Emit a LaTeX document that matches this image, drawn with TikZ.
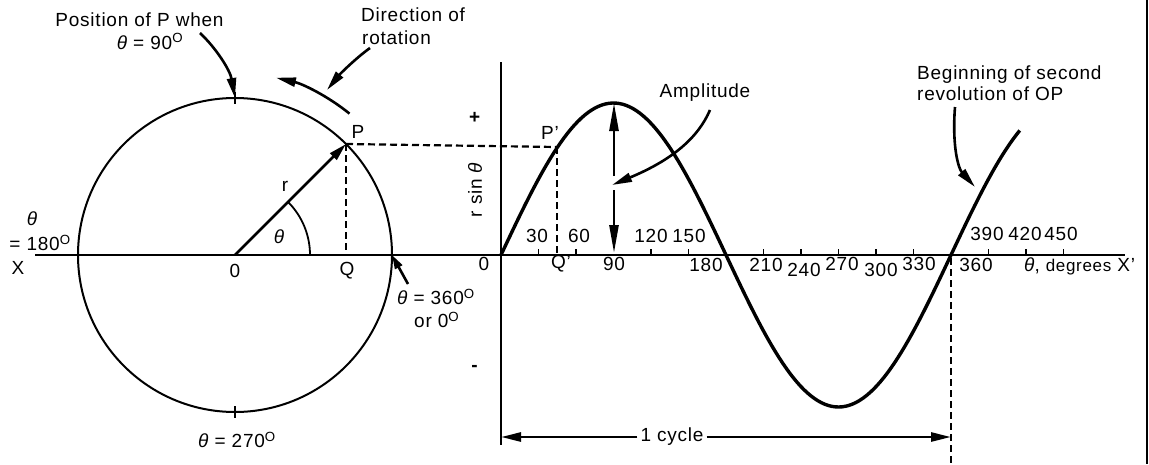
\documentclass[tikz,border=0pt]{standalone}
\usepackage{fontspec}
\setmainfont{Liberation Sans}[LetterSpace=4]
\usetikzlibrary{arrows.meta,calc}
\newcommand{\thet}{{\itshape θ}}
\begin{document}
\begin{tikzpicture}[x=1pt,y=-1pt,
  font=\fontsize{19}{21}\selectfont,
  lbl/.style={inner sep=0pt},
  axisline/.style={line width=2pt},
  curveline/.style={line width=3.4pt,line join=round},
  arr/.style={line width=2.6pt,-{Triangle[length=20pt,width=9pt]}},
  longarr/.style={line width=2.6pt,-{Triangle[length=28pt,width=9pt]}},
  dashline/.style={line width=2.2pt,dash pattern=on 7pt off 4pt},
  tick/.style={line width=1.6pt}]
\useasboundingbox (0,0) rectangle (1149,464);
% ---------- circle ----------
\coordinate (O) at (235,255);
\coordinate (P) at (346,144);
\coordinate (Q) at (346,255);
\coordinate (L) at (78,255);
\coordinate (R) at (392,255);
\coordinate (T) at (235,98);
\coordinate (B) at (235,412);
\draw[line width=2pt] (O) circle[radius=157];
\draw[axisline] (35,255) -- (1125,255);
\draw[tick] (235,92) -- (235,104);
\draw[tick] (235,406) -- (235,418);
\draw[line width=2.8pt,-{Triangle[length=18pt,width=9pt]}] (O) -- (P);
\draw[line width=1.8pt] ($(O)+(75,0)$) arc[start angle=0,end angle=-45,radius=75];
\draw[dashline] (P) -- (Q);
% rotation arc
\coordinate (rotS) at (349.5,113.6);
\draw[arr] (rotS) arc[start angle=-51,end angle=-77,radius=182];
% labels circle
\node[lbl] (lr) at (285,186) {r};
\node[lbl] (lth) at (279,237) {\thet};
\node[lbl] (lO) at (235,271) {0};
\node[lbl] (lQ) at (347,271) {Q};
\node[lbl] (lX) at (18,268) {X};
\node[lbl] (lP) at (358,132) {P};
\node[lbl] (l180a) at (32,219) {\thet};
\node[lbl] (l180b) at (40,243) {= 180\textsuperscript{O}};
\node[lbl] (l270) at (237,440) {\thet{} = 270\textsuperscript{O}};
\node[lbl,anchor=west] (l360a) at (397,297) {\thet{} = 360\textsuperscript{O}};
\node[lbl,anchor=west] (l360b) at (414,320) {or 0\textsuperscript{O}};
\coordinate (a360s) at (408,284);
\draw[line width=2.6pt,-{Triangle[length=14pt,width=8pt]}] (a360s) -- (R);
% top labels
\node[lbl] (pos1) at (139.5,20) {Position of P when};
\node[lbl] (pos2) at (150,41.5) {\thet{} = 90\textsuperscript{O}};
\coordinate (posS) at (200,33);
\draw[arr] (posS) .. controls (216,48) and (230,70) .. (T);
\node[lbl,anchor=west] (dir1) at (361,15) {Direction of};
\node[lbl,anchor=west] (dir2) at (362,38) {rotation};
\coordinate (dirS) at (370,48);
\coordinate (dirE) at (327,90);
\draw[arr] (dirS) .. controls (356,58) and (340,74) .. (dirE);
% ---------- sine ----------
\coordinate (S0) at (501,255);
\draw[axisline] (501,62) -- (501,445);
\draw[curveline] plot[domain=0:415,samples=150] ({501+1.25*\x},{255-152*sin(\x)});
\foreach \a in {30,60,120,150,210,240,270,300,330,390,420,450}
  \draw[tick] ({501+1.25*\a},255) -- ++(0,-6);
\coordinate (Pp) at (557,147);
\coordinate (Qp) at (557,255);
\draw[dashline] (P) -- (Pp);
\draw[dashline] (Pp) -- (Qp);
\node[lbl] (lPp) at (550,133) {P'};
\node[lbl] (lQp) at (561,264) {Q'};
\node[lbl] (l0) at (484,264) {0};
\node[lbl] (lplus) at (475,118) {\textbf{+}};
\node[lbl] (lminus) at (475,368) {\textbf{-}};
\node[lbl,rotate=90] (lrs) at (475,190) {r sin \thet};
% tick labels
\node[lbl] (t30) at (537,236) {30};
\node[lbl] (t60) at (579,236) {60};
\node[lbl] (t120) at (651,236) {120};
\node[lbl] (t150) at (689,236) {150};
\node[lbl] (t390) at (987,234) {390};
\node[lbl] (t420) at (1025,234) {420};
\node[lbl] (t450) at (1061,234) {450};
\node[lbl] (t90) at (614,264) {90};
\node[lbl] (t180) at (706,265) {180};
\node[lbl] (t210) at (766,265) {210};
\node[lbl] (t240) at (804,270) {240};
\node[lbl] (t270) at (842,264) {270};
\node[lbl] (t300) at (881,270) {300};
\node[lbl] (t330) at (919,264) {330};
\node[lbl] (t360) at (976,265) {360};
\node[lbl,anchor=west] (ldeg) at (1024,266) {\thet, {\fontsize{17}{19}\selectfont degrees} X'};
% amplitude
\coordinate (peak) at (614,103);
\coordinate (base) at (614,253);
\coordinate (amU) at (614,176);
\coordinate (amD) at (614,190);
\draw[longarr] (amU) -- (peak);
\draw[longarr] (amD) -- (base);
\node[lbl] (lamp) at (705,93) {Amplitude};
\coordinate (ampS) at (710,110);
\coordinate (ampE) at (612,185);
\draw[arr] (ampS) .. controls (698,138) and (672,160) .. (ampE);
% beginning of second revolution
\node[lbl,anchor=west] (beg1) at (917,75) {Beginning of second};
\node[lbl,anchor=west] (beg2) at (917,94) {revolution of OP};
\coordinate (begS) at (955,107);
\coordinate (begE) at (975,187);
\draw[arr] (begS) .. controls (952,145) and (958,168) .. (begE);
% one cycle
\draw[dashline] (951,258) -- (951,464);
\coordinate (cycL) at (501,437);
\coordinate (cycR) at (951,437);
\node[lbl,fill=white,inner xsep=3pt] (cyc) at (672,437) {1 cycle};
\draw[arr] (cyc.west) -- (cycL);
\draw[arr] (cyc.east) -- (cycR);
% right border
\draw[line width=2.5pt] (1147,0) -- (1147,464);
\end{tikzpicture}
\end{document}
